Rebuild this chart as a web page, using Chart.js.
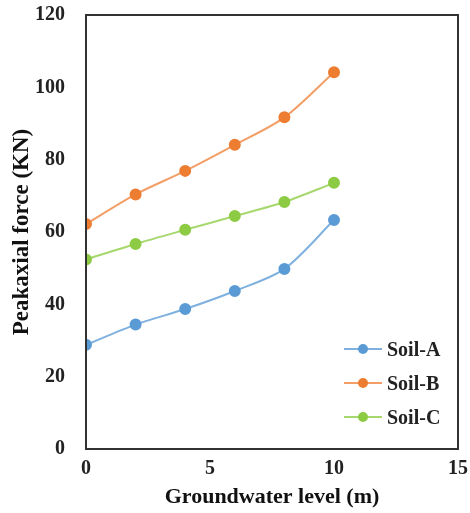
<!DOCTYPE html>
<html lang="en">

<head>
    <meta charset="UTF-8">
    <title>Peak axial force vs groundwater level</title>
    <script src="https://cdn.jsdelivr.net/npm/chart.js"></script>
    <style>
        html, body {
            margin: 0;
            padding: 0;
            background: #fff;
        }
        #wrap {
            position: relative;
            width: 470px;
            height: 513px;
        }
        #legend {
            position: absolute;
            left: 344px;
            top: 332px;
            font-family: "Liberation Serif", "Times New Roman", serif;
            font-weight: bold;
            font-size: 20px;
            color: #222;
        }
        .leg-item {
            display: flex;
            align-items: center;
            height: 34px;
        }
        .leg-line {
            position: relative;
            width: 38px;
            height: 2px;
            margin-right: 5px;
        }
        .leg-dot {
            position: absolute;
            left: 14px;
            top: -4px;
            width: 10px;
            height: 10px;
            border-radius: 50%;
        }
    </style>
</head>

<body>
    <div id="wrap">
        <canvas id="forceChart" width="470" height="513"></canvas>
        <div id="legend"></div>
    </div>

    <script>
        // values
        const depths = [0, 2, 4, 6, 8, 10];
        const soilA = [28.8, 34.4, 38.7, 43.7, 49.8, 63.3];
        const soilB = [62.2, 70.4, 76.9, 84.1, 91.7, 104.2];
        const soilC = [52.4, 56.7, 60.6, 64.4, 68.3, 73.6];
        const yTicks = [0, 20, 40, 60, 80, 100, 120];
        const xTicks = [0, 5, 10, 15];

        const serif = '"Liberation Serif", "Times New Roman", serif';

        function pts(ys) {
            return depths.map((x, i) => ({ x: x, y: ys[i] }));
        }

        function series(label, data, line, dot) {
            return {
                label: label,
                data: pts(data),
                borderColor: line,
                backgroundColor: dot,
                pointBackgroundColor: dot,
                pointBorderColor: dot,
                pointRadius: 5,
                pointHoverRadius: 5,
                borderWidth: 2,
                tension: 0.3,
                fill: false
            };
        }

        // frame round the plot area
        const frame = {
            id: 'frame',
            afterDatasetsDraw(chart) {
                const a = chart.chartArea;
                const ctx = chart.ctx;
                ctx.save();
                ctx.strokeStyle = '#333';
                ctx.lineWidth = 2;
                ctx.strokeRect(a.left, a.top, a.right - a.left, a.bottom - a.top);
                ctx.restore();
            }
        };

        const ctx = document.getElementById('forceChart').getContext('2d');
        const forceChart = new Chart(ctx, {
            type: 'scatter',
            data: {
                datasets: [
                    series('Soil-A', soilA, '#7FB1DF', '#5B9BD5'),
                    series('Soil-B', soilB, '#F29E66', '#ED7D31'),
                    series('Soil-C', soilC, '#A6D86E', '#8DCB45')
                ]
            },
            options: {
                responsive: false,
                animation: false,
                showLine: true,
                layout: {
                    padding: { left: 0, top: 15, right: 12, bottom: 0 }
                },
                plugins: {
                    legend: { display: false },
                    tooltip: { enabled: false }
                },
                scales: {
                    x: {
                        type: 'linear',
                        min: 0,
                        max: 15,
                        afterBuildTicks: (s) => { s.ticks = xTicks.map(v => ({ value: v })); },
                        afterFit: (s) => { s.height = 64; s.paddingLeft = 0; s.paddingRight = 0; },
                        grid: { display: false },
                        border: { display: false },
                        ticks: {
                            padding: 0,
                            color: '#222',
                            font: { family: serif, size: 20, weight: 'bold' }
                        },
                        title: {
                            display: true,
                            text: 'Groundwater level (m)',
                            color: '#111',
                            padding: { top: 0, bottom: 2 },
                            font: { family: serif, size: 22, weight: 'bold' }
                        }
                    },
                    y: {
                        min: 0,
                        max: 120,
                        afterBuildTicks: (s) => { s.ticks = yTicks.map(v => ({ value: v })); },
                        afterFit: (s) => { s.width = 86; s.paddingTop = 0; s.paddingBottom = 0; },
                        grid: { display: false },
                        border: { display: false },
                        ticks: {
                            padding: 13,
                            color: '#222',
                            font: { family: serif, size: 20, weight: 'bold' }
                        },
                        title: {
                            display: true,
                            text: 'Peakaxial force (KN)',
                            color: '#111',
                            padding: { top: 8, bottom: 0 },
                            font: { family: serif, size: 23, weight: 'bold' }
                        }
                    }
                }
            },
            plugins: [frame]
        });

        // legend inside the plot, bottom right
        const legend = document.getElementById('legend');
        forceChart.data.datasets.forEach(ds => {
            const item = document.createElement('div');
            item.className = 'leg-item';
            item.innerHTML = '<span class="leg-line" style="background:' + ds.borderColor + '">' +
                '<span class="leg-dot" style="background:' + ds.pointBackgroundColor + '"></span></span>' +
                '<span>' + ds.label + '</span>';
            legend.appendChild(item);
        });
    </script>

</body>

</html>
